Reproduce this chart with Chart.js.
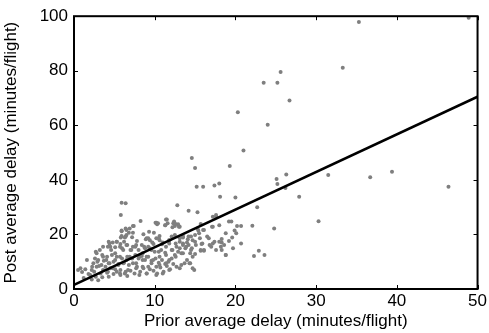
<!DOCTYPE html>
<html>
<head>
<meta charset="utf-8">
<script src="https://cdn.jsdelivr.net/npm/chart.js@4"></script>
<style>
  html, body { margin: 0; padding: 0; background: #fff; }
  #wrap { width: 489px; height: 333px; }
</style>
</head>
<body>
<div id="wrap"><canvas id="myChart" width="489" height="333"></canvas></div>
<script>
// prior / post average delay (minutes per flight)
const priorDelay = [
  23.5, 25.2, 20.3, 24.0, 21.0, 14.6, 35.3, 48.9, 25.6, 26.7, 33.3, 15.0, 15.2, 16.0, 17.4, 18.0,
  19.3, 25.1, 25.2, 18.1, 20.0, 5.9, 6.4, 5.8, 12.8, 14.2, 15.3, 8.25, 22.7, 22.1, 24.8, 22.3,
  22.9, 23.6, 26.3, 26.2, 27.9, 31.5, 30.3, 36.7, 39.4, 46.4,
  17.6, 17.2, 15.7, 19.5, 20.7, 20.2, 19.9, 20.1, 17.2, 16.0, 15.4, 15.0, 16.7, 15.6, 18.3, 19.6,
  15.0, 15.8, 16.8, 17.2, 17.4, 18.3, 18.6, 19.2, 19.7, 20.7, 18.3, 18.8, 15.7, 16.1, 15.0, 14.9,
  7.4, 10.1, 10.3, 11.4, 11.6, 11.3, 12.3, 12.5, 12.9, 13.1, 9.9, 10.6, 9.2, 10.5, 12.1, 12.5, 13.5, 14.2,
  6.4, 7.3, 5.9, 6.8, 6.5, 5.8, 6.4,
  4.3, 4.8, 5.3, 5.75, 6.2, 6.6, 4.5, 5.1, 5.95, 7.0, 2.7, 3.5, 4.1, 4.7, 5.3, 5.95, 6.6, 7.2,
  1.6, 2.9, 3.7, 4.3, 4.9, 5.5, 6.2, 6.8, 7.3, 0.8, 1.4, 2.25, 3.1, 3.9, 4.5, 5.1, 5.75, 6.4, 7.0,
  2.5, 3.3, 4.1, 4.9, 5.75, 6.6, 2.7, 3.5, 4.3,
  7.6, 8.0, 8.4, 8.8, 9.2, 9.6, 10.1, 10.5, 10.9, 11.3, 11.7, 12.1, 12.5, 12.9, 13.3, 13.8, 14.2, 13.5,
  13.1, 14.4, 14.0, 13.3, 12.7, 11.9, 11.1, 10.3, 9.4, 8.6, 7.8, 8.2, 9.0, 9.85, 10.7, 11.5, 12.3,
  8.0, 8.8, 9.6, 10.5, 11.3, 12.1, 12.7, 14.0, 14.6, 7.6, 8.4, 9.2, 9.85, 14.4,
  7.8, 8.9, 9.7, 10.9, 11.8, 7.2, 8.6, 9.3,
  1.2, 1.8, 2.2, 3.0, 1.0, 0.5
];
const postDelay = [
  75.6, 75.6, 64.8, 60.2, 50.8, 48.0, 97.9, 99.4, 79.5, 69.1, 81.1, 44.4, 37.5, 37.5, 37.9, 38.7,
  45.1, 40.3, 38.5, 33.8, 33.5, 31.6, 31.4, 27.1, 30.7, 28.7, 28.1, 24.9, 30.0, 23.2, 22.2, 12.1,
  14.0, 12.5, 42.0, 37.0, 33.8, 41.8, 24.8, 41.0, 43.0, 37.5,
  27.1, 26.5, 23.8, 24.7, 23.1, 23.1, 21.4, 20.4, 22.8, 21.6, 21.4, 19.8, 18.6, 18.6, 18.3, 18.9,
  17.3, 16.5, 16.1, 16.7, 17.3, 17.0, 16.1, 17.6, 14.9, 16.7, 14.3, 12.5, 14.0, 14.0, 12.8, 7.0,
  23.1, 24.3, 23.7, 25.5, 24.1, 23.4, 24.1, 23.1, 23.7, 22.8, 20.6, 19.4, 18.6, 18.6, 19.2, 19.8, 18.9, 19.2,
  22.2, 23.1, 21.4, 20.6, 19.8, 18.9, 19.2,
  17.3, 17.0, 17.3, 16.5, 17.3, 16.1, 15.5, 15.3, 14.9, 14.3, 13.7, 12.5, 11.8, 12.5, 11.8, 11.2, 11.8, 11.2,
  10.6, 10.0, 10.4, 9.4, 10.0, 9.2, 9.6, 8.8, 9.4, 7.6, 7.2, 8.2, 8.4, 8.2, 7.6, 7.2, 7.0, 6.3, 6.7,
  6.3, 5.7, 6.0, 5.5, 5.1, 4.8, 4.5, 4.3, 4.5,
  12.5, 11.2, 12.1, 10.6, 11.8, 10.4, 11.2, 9.6, 10.6, 9.2, 10.0, 11.2, 12.5, 13.7, 13.1, 14.9, 16.1, 16.7,
  17.3, 13.1, 10.6, 8.8, 8.2, 7.2, 6.3, 5.7, 7.2, 7.6, 8.2, 6.3, 5.7, 6.7, 7.9, 8.4, 9.2,
  14.3, 14.9, 14.3, 13.7, 13.3, 14.3, 15.5, 17.0, 14.9, 15.5, 16.1, 15.5, 16.5, 9.4,
  17.6, 18.2, 17.0, 16.4, 17.9, 19.0, 20.1, 21.0,
  4.0, 5.5, 3.5, 3.2, 6.2, 7.0
];
// more airports from the dense cluster near the origin
const densePrior = [
  10.2, 10.4, 11.5, 11.3, 12.4, 12.6, 12.2, 13.0, 5.9, 6.5, 6.9, 7.3, 5.9, 6.3, 9.0, 9.4,
  10.2, 10.6, 11.0, 11.8, 13.1, 13.5, 14.1, 14.5, 14.7, 15.5, 15.3, 16.1, 16.5, 17.1, 17.6, 18.0,
  18.8, 19.2, 17.0, 18.0, 18.2, 18.8, 17.6, 16.1, 15.7, 14.7, 14.3, 13.5, 12.6, 11.8, 11.4, 10.6,
  10.2, 9.6, 8.5, 8.1, 7.7, 7.5, 8.1, 9.0, 10.2, 11.0, 11.8, 13.1, 13.7, 14.7, 5.7, 5.3,
  4.4, 4.2, 4.6, 5.1, 3.6, 3.2, 2.8, 2.6, 2.4, 2.8, 3.4, 3.6, 4.2, 4.8, 5.5, 6.1,
  6.5, 6.9, 7.1, 7.3, 7.7, 6.5, 6.1, 5.7, 5.1, 4.4, 4.0, 3.6, 3.0, 2.2, 2.0, 6.7,
  6.3, 5.7, 5.3, 7.7, 8.5, 9.2, 9.8, 10.6, 11.4, 12.2, 13.1, 13.9, 14.5, 15.1, 15.9, 9.4,
  8.7, 8.5, 9.0, 10.0, 10.8, 11.4, 11.8, 12.6, 13.5
];
const densePost = [
  24.3, 24.1, 25.5, 23.4, 24.7, 23.8, 22.6, 22.8, 21.2, 21.6, 22.2, 20.6, 19.4, 18.9, 18.6, 17.9,
  18.6, 17.9, 17.0, 17.9, 18.6, 19.4, 18.2, 19.2, 17.9, 20.4, 22.2, 21.6, 19.2, 22.8, 26.5, 23.4,
  20.4, 24.7, 15.5, 17.3, 15.5, 12.5, 14.3, 14.3, 14.3, 11.8, 9.4, 13.1, 11.8, 10.6, 9.4, 8.8,
  8.2, 9.4, 10.6, 11.8, 9.4, 5.7, 5.1, 5.7, 5.1, 5.7, 7.0, 7.6, 9.4, 7.6, 15.5, 17.3,
  16.7, 15.5, 14.3, 13.1, 15.5, 14.3, 13.1, 11.2, 9.4, 8.2, 8.8, 7.0, 6.3, 7.6, 8.8, 9.4,
  10.6, 11.8, 14.3, 15.5, 16.1, 16.1, 14.3, 11.8, 10.6, 9.4, 10.6, 11.8, 10.6, 7.0, 5.1, 7.0,
  5.7, 5.7, 6.3, 7.6, 8.2, 8.2, 10.6, 11.8, 12.5, 14.3, 14.9, 15.5, 14.3, 16.1, 16.7, 14.9,
  15.5, 13.1, 11.8, 13.7, 14.3, 15.5, 16.7, 16.7, 16.1
];
// least squares line
const fitX = [0, 50];
const fitY = [1.5, 70.5];

const xTicks = [0, 10, 20, 30, 40, 50];
const yTicks = [0, 20, 40, 60, 80, 100];

const allPrior = priorDelay.concat(densePrior);
const allPost = postDelay.concat(densePost);
const points = allPrior.map((x, i) => ({ x: x, y: allPost[i] }));
const fitLine = fitX.map((x, i) => ({ x: x, y: fitY[i] }));

const FONT = "Arial, 'Liberation Sans', Helvetica, sans-serif";

// box + inward tick marks, matlab style
const boxTicks = {
  id: 'boxTicks',
  afterDatasetsDraw(chart) {
    const c = chart.ctx;
    const a = chart.chartArea;
    const sx = chart.scales.x;
    const sy = chart.scales.y;
    c.save();
    c.strokeStyle = '#000';
    c.lineWidth = 1;
    c.beginPath();
    for (const v of xTicks) {
      const px = Math.round(sx.getPixelForValue(v)) + 0.5;
      c.moveTo(px, a.bottom); c.lineTo(px, a.bottom - 4);
      c.moveTo(px, a.top); c.lineTo(px, a.top + 4);
    }
    for (const v of yTicks) {
      const py = Math.round(sy.getPixelForValue(v)) + 0.5;
      c.moveTo(a.left, py); c.lineTo(a.left + 4, py);
      c.moveTo(a.right, py); c.lineTo(a.right - 4, py);
    }
    c.stroke();
    c.lineWidth = 2;
    c.strokeRect(a.left, a.top, a.right - a.left, a.bottom - a.top);
    c.restore();
  }
};

new Chart(document.getElementById('myChart'), {
  type: 'scatter',
  data: {
    datasets: [
      {
        label: 'airports',
        data: points,
        backgroundColor: '#7f7f7f',
        borderWidth: 0,
        pointRadius: 2,
        order: 2
      },
      {
        type: 'line',
        label: 'fit',
        data: fitLine,
        borderColor: '#000',
        borderWidth: 2.6,
        pointRadius: 0,
        fill: false,
        order: 1
      }
    ]
  },
  options: {
    responsive: false,
    animation: false,
    layout: { padding: { left: 0, right: 9, top: 16, bottom: 0 } },
    plugins: {
      legend: { display: false },
      tooltip: { enabled: false }
    },
    scales: {
      x: {
        type: 'linear',
        min: 0, max: 50,
        afterBuildTicks: s => { s.ticks = xTicks.map(v => ({ value: v })); },
        afterFit: s => { s.height = 44; },
        grid: { display: false, drawTicks: false },
        border: { display: false },
        ticks: { color: '#000', font: { family: FONT, size: 17 }, padding: 2, maxRotation: 0 },
        title: { display: true, text: 'Prior average delay (minutes/flight)', color: '#000',
                 font: { family: FONT, size: 17 }, padding: { top: 0, bottom: 1 } }
      },
      y: {
        type: 'linear',
        min: 0, max: 100,
        afterBuildTicks: s => { s.ticks = yTicks.map(v => ({ value: v })); },
        afterFit: s => { s.width = 74; },
        grid: { display: false, drawTicks: false },
        border: { display: false },
        ticks: { color: '#000', font: { family: FONT, size: 17 }, padding: 6 },
        title: { display: true, text: 'Post average delay (minutes/flight)', color: '#000',
                 font: { family: FONT, size: 17 }, padding: { top: 1, bottom: 0 } }
      }
    }
  },
  plugins: [boxTicks]
});
</script>
</body>
</html>
